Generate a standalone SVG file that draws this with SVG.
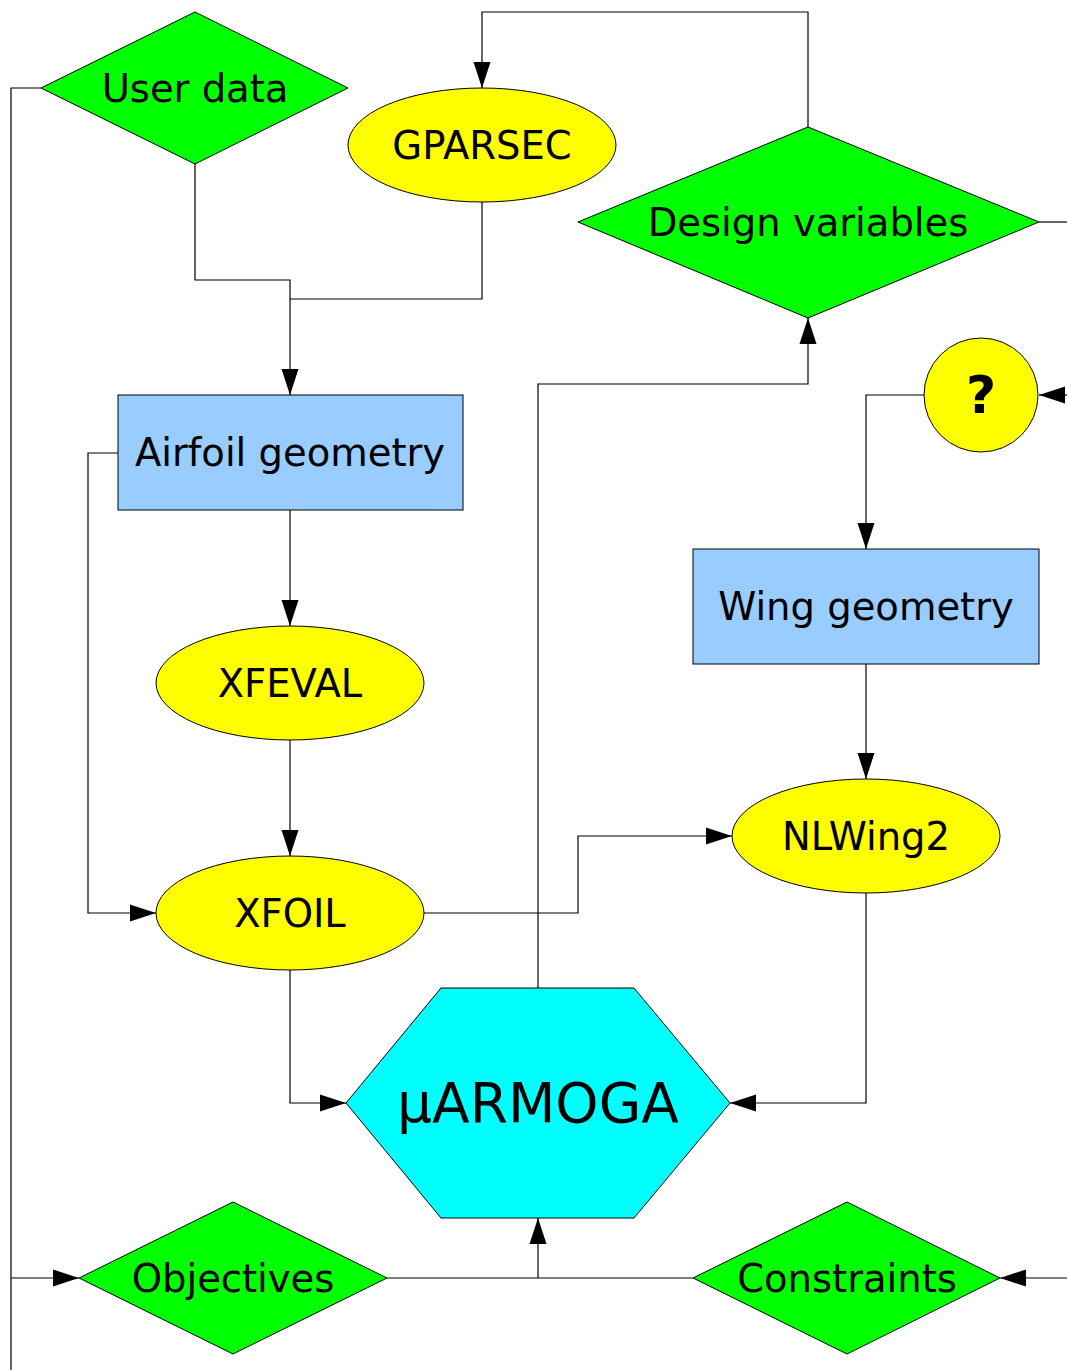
<svg xmlns="http://www.w3.org/2000/svg" width="1067" height="1370" viewBox="0 0 1067 1370">
<style>
text{font-family:"DejaVu Sans","Liberation Sans",sans-serif;font-size:38.5px;text-anchor:middle;dominant-baseline:central;fill:#000}
.dia{fill:#00ff00;stroke:#000;stroke-width:1}
.ell{fill:#ffff00;stroke:#000;stroke-width:1}
.box{fill:#99ccff;stroke:#000;stroke-width:1}
.hex{fill:#00ffff;stroke:#000;stroke-width:1}
.c{fill:none;stroke:#000;stroke-width:1.2}
</style>
<defs>
<marker id="ah" markerUnits="userSpaceOnUse" markerWidth="26" markerHeight="20" viewBox="0 0 26 20" refX="26" refY="10" orient="auto">
<path d="M0,1.5 L26,10 L0,18.5 Z" fill="#000"/>
</marker>
</defs>
<g id="connectors">
<path class="c" d="M41,88 H11 V1370"/>
<path class="c" d="M11,1278 H79" marker-end="url(#ah)"/>
<path class="c" d="M195,164 V280 H290 V395" marker-end="url(#ah)"/>
<path class="c" d="M482,202 V299 H290"/>
<path class="c" d="M808,127 V12 H482 V88" marker-end="url(#ah)"/>
<path class="c" d="M1039,222 H1067"/>
<path class="c" d="M538,988 V384 H808 V318" marker-end="url(#ah)"/>
<path class="c" d="M1067,395 H1039" marker-end="url(#ah)"/>
<path class="c" d="M924,395 H866 V549" marker-end="url(#ah)"/>
<path class="c" d="M118,453 H88 V913 H156" marker-end="url(#ah)"/>
<path class="c" d="M290,510 V626" marker-end="url(#ah)"/>
<path class="c" d="M290,740 V856" marker-end="url(#ah)"/>
<path class="c" d="M424,913 H578 V836 H732" marker-end="url(#ah)"/>
<path class="c" d="M866,664 V779" marker-end="url(#ah)"/>
<path class="c" d="M866,893 V1103 H730" marker-end="url(#ah)"/>
<path class="c" d="M290,970 V1103 H346" marker-end="url(#ah)"/>
<path class="c" d="M387,1278 H693"/>
<path class="c" d="M538,1278 V1218" marker-end="url(#ah)"/>
<path class="c" d="M1067,1278 H1000" marker-end="url(#ah)"/>
</g>
<g id="user-data"><polygon class="dia" points="41,88 195,12 348,88 195,164"/><text x="195" y="88">User data</text></g>
<g id="gparsec"><ellipse class="ell" cx="482" cy="145" rx="134" ry="57"/><text x="482" y="145">GPARSEC</text></g>
<g id="design-variables"><polygon class="dia" points="578,222 808,127 1039,222 808,318"/><text x="808" y="222">Design variables</text></g>
<g id="question"><circle class="ell" cx="981" cy="395" r="57"/><text x="981" y="395" style="font-weight:bold;font-size:52px">?</text></g>
<g id="airfoil-geometry"><rect class="box" x="118" y="395" width="345" height="115"/><text x="290" y="452">Airfoil geometry</text></g>
<g id="wing-geometry"><rect class="box" x="693" y="549" width="346" height="115"/><text x="866" y="606">Wing geometry</text></g>
<g id="xfeval"><ellipse class="ell" cx="290" cy="683" rx="134" ry="57"/><text x="290" y="683">XFEVAL</text></g>
<g id="xfoil"><ellipse class="ell" cx="290" cy="913" rx="134" ry="57"/><text x="290" y="913">XFOIL</text></g>
<g id="nlwing2"><ellipse class="ell" cx="866" cy="836" rx="134" ry="57"/><text x="866" y="836">NLWing2</text></g>
<g id="uarmoga"><polygon class="hex" points="346,1103 441,988 634,988 730,1103 634,1218 441,1218"/><text x="538" y="1103" style="font-size:55px">µARMOGA</text></g>
<g id="objectives"><polygon class="dia" points="79,1278 233,1202 387,1278 233,1354"/><text x="233" y="1278">Objectives</text></g>
<g id="constraints"><polygon class="dia" points="693,1278 847,1202 1000,1278 847,1354"/><text x="847" y="1278">Constraints</text></g>
</svg>
